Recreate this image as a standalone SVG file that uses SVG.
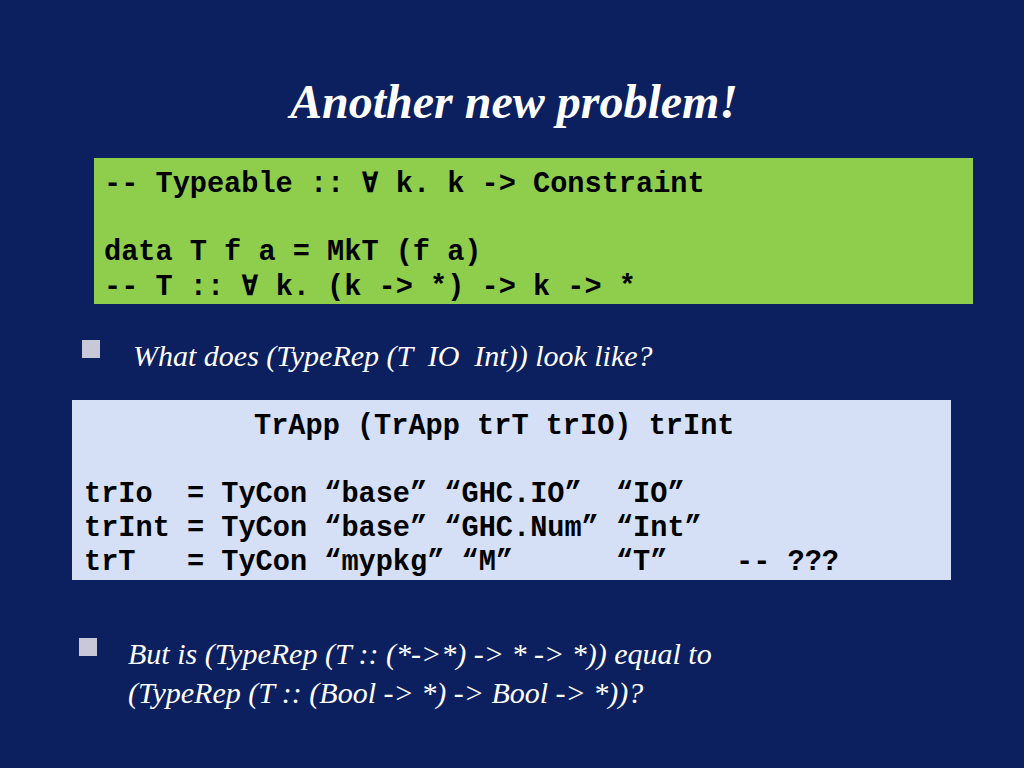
<svg xmlns="http://www.w3.org/2000/svg" width="1024" height="768" viewBox="0 0 1024 768">
<style>
.code{font-family:"Liberation Mono",monospace;font-weight:bold;font-size:28.6px;fill:#000;white-space:pre}
.it{font-family:"Liberation Serif",serif;font-style:italic;font-size:30px;fill:#fff;white-space:pre}
.bul{fill:#c8c8d8}
</style>
<rect width="1024" height="768" fill="#0c1f5e"/>
<text x="514" y="118" text-anchor="middle" font-family="Liberation Serif,serif" font-style="italic" font-weight="bold" font-size="48" fill="#fff">Another new problem!</text>
<g id="green">
<rect x="94" y="158" width="879" height="146" fill="#8fce4c"/>
<text class="code" xml:space="preserve"><tspan x="104" y="192">-- Typeable :: ∀ k. k -&gt; Constraint</tspan><tspan x="104" y="260">data T f a = MkT (f a)</tspan><tspan x="104" y="295">-- T :: ∀ k. (k -&gt; *) -&gt; k -&gt; *</tspan></text>
</g>
<g id="b1">
<rect class="bul" x="82" y="340" width="18" height="18"/>
<text class="it" x="133" y="366" xml:space="preserve">What does (TypeRep (T  IO  Int)) look like?</text>
</g>
<g id="blue">
<rect x="72" y="400" width="879" height="180" fill="#d5e0f6"/>
<text class="code" xml:space="preserve"><tspan x="254" y="434">TrApp (TrApp trT trIO) trInt</tspan><tspan x="84" y="502">trIo  = TyCon “base” “GHC.IO”  “IO”</tspan><tspan x="84" y="536">trInt = TyCon “base” “GHC.Num” “Int”</tspan><tspan x="84" y="570">trT   = TyCon “mypkg” “M”      “T”    -- ???</tspan></text>
</g>
<g id="b2">
<rect class="bul" x="79" y="638" width="18" height="18"/>
<text class="it" font-size="29"><tspan x="128" y="664">But is (TypeRep (T :: (*-&gt;*) -&gt; * -&gt; *)) equal to</tspan><tspan x="128" y="703">(TypeRep (T :: (Bool -&gt; *) -&gt; Bool -&gt; *))?</tspan></text>
</g>
</svg>
